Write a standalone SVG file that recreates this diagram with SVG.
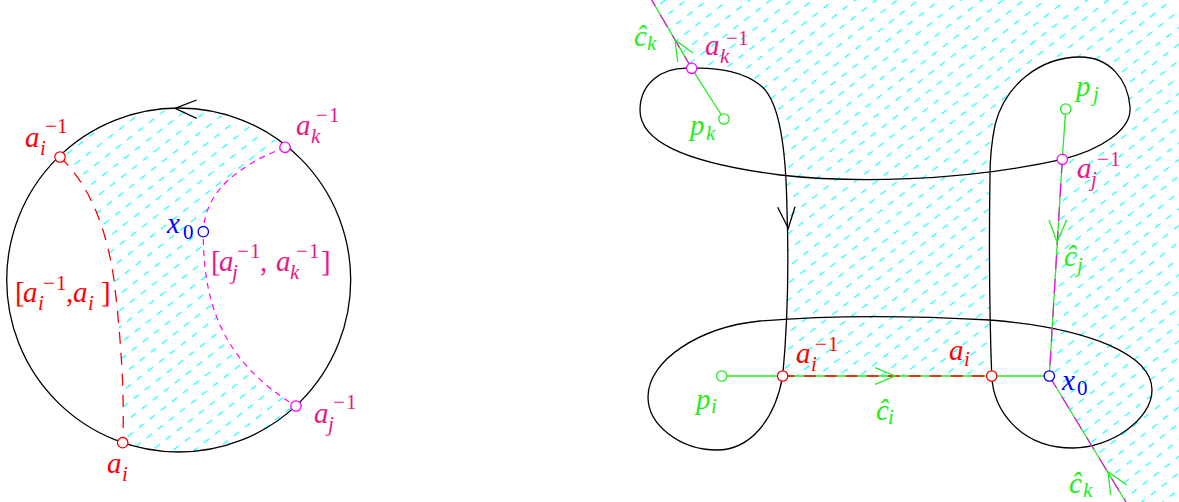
<svg xmlns="http://www.w3.org/2000/svg" width="1179" height="502" viewBox="0 0 1179 502">
<style>
.k{fill:none;stroke:#000;stroke-width:1.3}
.g{fill:none;stroke:#22ee22;stroke-width:1.3}
.md{fill:none;stroke:#ff00ff;stroke-width:1.2;stroke-dasharray:6 5}
.ml{fill:none;stroke:#ff00ff;stroke-width:1.2;stroke-dasharray:14 10}
.rd{fill:none;stroke:#ff0000;stroke-width:1.3;stroke-dasharray:12 9}
.ag{fill:none;stroke:#22ee22;stroke-width:1.3}
.pt{fill:#fff;stroke-width:1.3}
.pr{stroke:#ff0000}.pm{stroke:#ff00ff}.pb{stroke:#0000ff}.pg{stroke:#22ee22}
text{font-family:"Liberation Serif","Times New Roman",serif;font-size:29px;font-style:italic}
.s{font-size:21px}
.u{font-style:normal}
.tr{fill:#ff0000}.tp{fill:#e8188c}.tb{fill:#0000ff}.tg{fill:#22ee22}
</style>
<defs>
<pattern id="hatch" patternUnits="userSpaceOnUse" width="14" height="13" patternTransform="rotate(-38)">
<line x1="0" y1="6.5" x2="6.5" y2="6.5" stroke="#00ffff" stroke-width="1.1"/>
</pattern>
</defs>

<g id="hatching">
<path fill="url(#hatch)" d="M60,157 A172,172 0 0 1 285,147.3 C240,165 205,190 203.3,231.7 C203,300 220,360 296,406 A172,172 0 0 1 122.7,442.7 C125,390 120,330 114,280 C107,230 90,185 60,157 Z"/>
<path fill="url(#hatch)" d="M691.7,68.3 L647,-8 L1190,-8 L1190,512 L1132,512 L1049.3,376 L1062.3,159.3 C1100,150 1132,130 1130,107 C1128,80 1110,57 1080,57 C1040,57 1005,85 995,125 C991,145 990,160 990,175 C989,240 989,300 991.7,375 L782.7,376 C787,330 789,270 787,210 C786,150 780,100 760,85 C745,73 720,67 691.7,68.3 Z"/>
</g>

<g id="connectors">
<circle class="k" cx="178.7" cy="280" r="172"/>
<path class="k" d="M196.7,100 L175,108.3 L196.7,118.3"/>
<path class="rd" d="M60,157 C90,185 107,230 114,280 C120,330 125,390 122.7,442.7"/>
<path class="md" d="M285,147.3 C240,165 205,190 203.3,231.7 C203,300 220,360 296,406"/>

<path class="k" d="M691.7,68.3 C660,66 640,85 640,110 C640,140 680,162 780,175 C850,183 960,182 1062.3,159.3 C1100,150 1132,130 1130,107 C1128,80 1110,57 1080,57 C1040,57 1005,85 995,125 C991,145 990,160 990,175 C989,240 989,300 991.7,375 C993,410 1020,448 1073,448 C1110,448 1152,420 1152,390 C1152,355 1090,328 990,320 C900,315 820,316 760,321 C700,327 648,360 648,397 C648,425 680,450 717,450 C750,450 775,420 782.7,376 C787,330 789,270 787,210 C786,150 780,100 760,85 C745,73 720,67 691.7,68.3 Z"/>
<path class="k" d="M777.7,207.3 L788.3,228.3 L795,206.7"/>

<line class="g" x1="724" y1="119" x2="691.7" y2="68.3"/>
<line class="g" x1="691.7" y1="68.3" x2="647" y2="-8"/>
<line class="ml" x1="691.7" y1="68.3" x2="647" y2="-8"/>
<path class="ag" d="M677.7,62 L675,40 L693,53"/>

<line class="g" x1="1065.7" y1="109" x2="1062.3" y2="159.3"/>
<line class="g" x1="1062.3" y1="159.3" x2="1049.3" y2="376"/>
<line class="ml" x1="1062.3" y1="159.3" x2="1049.3" y2="376"/>
<path class="ag" d="M1049,220 L1057,241.7 L1066.7,220"/>

<line class="g" x1="721.7" y1="376" x2="1049.3" y2="376"/>
<line class="rd" x1="782.7" y1="376" x2="991.7" y2="376"/>
<path class="ag" d="M875,367.7 L895,376 L875,384.3"/>

<line class="g" x1="1049.3" y1="376" x2="1132" y2="512"/>
<line class="ml" x1="1049.3" y1="376" x2="1132" y2="512"/>
<path class="ag" d="M1110.7,495 L1108,471.7 L1126.7,485"/>
</g>

<g id="node-ai-inv-left">
<circle class="pt pr" cx="60" cy="157" r="5.2"/>
<text class="tr"><tspan x="25" y="147">a</tspan><tspan class="s" x="40" y="155">i</tspan><tspan class="s u" x="45" y="133">−</tspan><tspan class="s u" x="57" y="133">1</tspan></text>
</g>
<g id="node-ak-inv-left">
<circle class="pt pm" cx="285" cy="147.3" r="5.2"/>
<text class="tp"><tspan x="296" y="135">a</tspan><tspan class="s" x="311" y="143">k</tspan><tspan class="s u" x="316" y="122">−</tspan><tspan class="s u" x="329" y="122">1</tspan></text>
</g>
<g id="node-x0-left">
<circle class="pt pb" cx="203.3" cy="231.7" r="5.2"/>
<text class="tb"><tspan x="167" y="233">x</tspan><tspan class="s u" x="183" y="239">0</tspan></text>
</g>
<g id="node-aj-inv-left">
<circle class="pt pm" cx="296" cy="406" r="5.2"/>
<text class="tp"><tspan x="314" y="423">a</tspan><tspan class="s" x="328" y="431">j</tspan><tspan class="s u" x="333" y="409">−</tspan><tspan class="s u" x="346" y="409">1</tspan></text>
</g>
<g id="node-ai-left">
<circle class="pt pr" cx="122.7" cy="442.7" r="5.2"/>
<text class="tr"><tspan x="107" y="473">a</tspan><tspan class="s" x="122" y="481">i</tspan></text>
</g>
<g id="label-ai-interval">
<text class="tr"><tspan class="u" x="15" y="302">[</tspan><tspan x="23" y="302">a</tspan><tspan class="s" x="38" y="310">i</tspan><tspan class="s u" x="43" y="290">−</tspan><tspan class="s u" x="56" y="290">1</tspan><tspan class="u" x="66" y="302">,</tspan><tspan x="73" y="302">a</tspan><tspan class="s" x="88" y="310">i</tspan><tspan class="u" x="101" y="302">]</tspan></text>
</g>
<g id="label-ajak-interval">
<text class="tp"><tspan class="u" x="211" y="271">[</tspan><tspan x="219" y="271">a</tspan><tspan class="s" x="232" y="279">j</tspan><tspan class="s u" x="237" y="258">−</tspan><tspan class="s u" x="250" y="258">1</tspan><tspan class="u" x="260" y="271">,</tspan><tspan x="276" y="271">a</tspan><tspan class="s" x="290" y="279">k</tspan><tspan class="s u" x="296" y="258">−</tspan><tspan class="s u" x="309" y="258">1</tspan><tspan class="u" x="321" y="271">]</tspan></text>
</g>

<g id="node-ak-inv-right">
<circle class="pt pm" cx="691.7" cy="68.3" r="5.2"/>
<text class="tp"><tspan x="705" y="55">a</tspan><tspan class="s" x="720" y="63">k</tspan><tspan class="s u" x="726" y="45">−</tspan><tspan class="s u" x="738" y="45">1</tspan></text>
</g>
<g id="node-pk">
<circle class="pt pg" cx="724" cy="119" r="5.2"/>
<text class="tg"><tspan x="690" y="135">p</tspan><tspan class="s" x="706" y="140">k</tspan></text>
</g>
<g id="label-ck-top">
<text class="tg"><tspan x="634" y="46">ĉ</tspan><tspan class="s" x="647" y="50">k</tspan></text>
</g>
<g id="node-pj">
<circle class="pt pg" cx="1065.7" cy="109" r="5.2"/>
<text class="tg"><tspan x="1076" y="96">p</tspan><tspan class="s" x="1093" y="101">j</tspan></text>
</g>
<g id="node-aj-inv-right">
<circle class="pt pm" cx="1062.3" cy="159.3" r="5.2"/>
<text class="tp"><tspan x="1077" y="178">a</tspan><tspan class="s" x="1091" y="186">j</tspan><tspan class="s u" x="1097" y="166">−</tspan><tspan class="s u" x="1110" y="166">1</tspan></text>
</g>
<g id="label-cj">
<text class="tg"><tspan x="1064" y="266">ĉ</tspan><tspan class="s" x="1077" y="272">j</tspan></text>
</g>
<g id="node-pi">
<circle class="pt pg" cx="721.7" cy="376" r="5.2"/>
<text class="tg"><tspan x="696" y="409">p</tspan><tspan class="s" x="711" y="413">i</tspan></text>
</g>
<g id="node-ai-inv-right">
<circle class="pt pr" cx="782.7" cy="376" r="5.2"/>
<text class="tr"><tspan x="796" y="363">a</tspan><tspan class="s" x="811" y="371">i</tspan><tspan class="s u" x="815" y="351">−</tspan><tspan class="s u" x="828" y="351">1</tspan></text>
</g>
<g id="label-ci">
<text class="tg"><tspan x="876" y="420">ĉ</tspan><tspan class="s" x="888" y="424">i</tspan></text>
</g>
<g id="node-ai-right">
<circle class="pt pr" cx="991.7" cy="376" r="5.2"/>
<text class="tr"><tspan x="949" y="360">a</tspan><tspan class="s" x="964" y="366">i</tspan></text>
</g>
<g id="node-x0-right">
<circle class="pt pb" cx="1049.3" cy="376" r="5.2"/>
<text class="tb"><tspan x="1062" y="390">x</tspan><tspan class="s u" x="1077" y="395">0</tspan></text>
</g>
<g id="label-ck-bottom">
<text class="tg"><tspan x="1069" y="493">ĉ</tspan><tspan class="s" x="1083" y="497">k</tspan></text>
</g>
</svg>
